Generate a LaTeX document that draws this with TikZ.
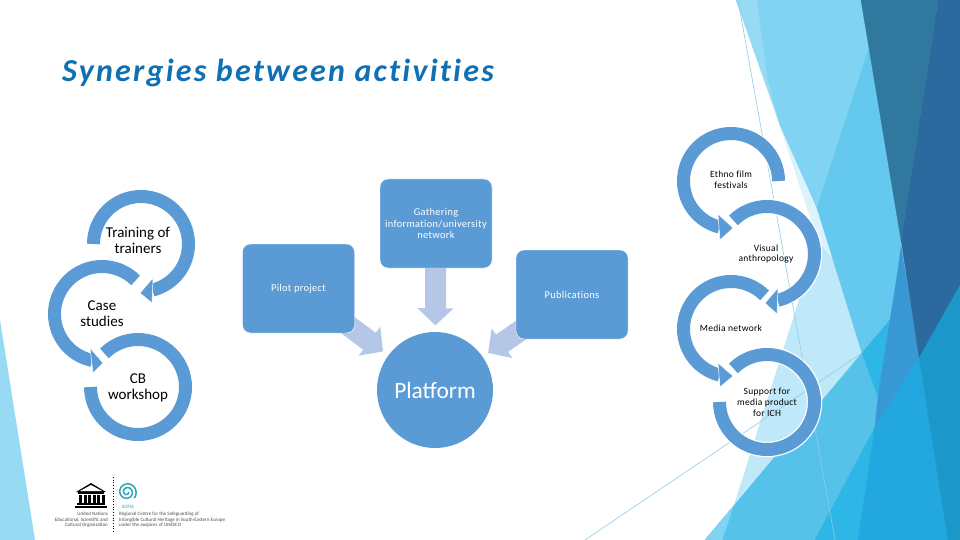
\documentclass[tikz,border=0pt]{standalone}
\usepackage{fontspec}
\setmainfont{Carlito}
\newfontfamily\titlefont[LetterSpace=7,RawFeature=-liga]{Carlito}
\newfontfamily\smallfont[LetterSpace=3,RawFeature=-liga]{Carlito}
\usetikzlibrary{arrows.meta,backgrounds}
\pgfdeclarelayer{links}
\pgfsetlayers{background,links,main}
\definecolor{boxblue}{HTML}{5B9BD5}
\definecolor{linkblue}{HTML}{B4C7E7}
\definecolor{titleblue}{HTML}{1070B4}
\definecolor{facetlight}{HTML}{80D3F2}
\definecolor{facetlighter}{HTML}{96DAF4}
\definecolor{facetmid}{HTML}{65C8EE}
\definecolor{facetpale}{HTML}{BFE8F8}
\definecolor{facetpaler}{HTML}{DDF3FB}
\definecolor{facetsky}{HTML}{56C2EA}
\definecolor{facetcyan}{HTML}{2DB6E6}
\definecolor{facetroyal}{HTML}{3898D3}
\definecolor{facetdeep}{HTML}{22A7DE}
\definecolor{facetsea}{HTML}{1B97C9}
\definecolor{facetnavy}{HTML}{31789F}
\definecolor{facetink}{HTML}{2A6A9E}
\definecolor{facetline}{HTML}{8CCDE8}
\definecolor{swirlteal}{HTML}{2FA6B8}
\tikzset{
  facet/.style={fill=#1,draw=#1,line width=.4pt},
  ringline/.style={draw=boxblue,line width=13pt,preaction={draw=white,line width=15.5pt}},
  ringhead/.style={fill=boxblue,draw=white,line width=.5pt},
  sidebox/.style={draw=white,fill=boxblue,rounded corners=8pt,minimum width=112pt,minimum height=89pt,inner sep=0pt,text=white,align=center,font=\smallfont\fontsize{10.4}{11.7}\selectfont},
  bigtext/.style={align=center,inner sep=0pt,font=\fontsize{15}{16}\selectfont},
  smalltext/.style={align=center,inner sep=0pt,font=\smallfont\fontsize{9.5}{10.8}\selectfont},
  logotext/.style={inner sep=0pt,text=black!70,font=\fontsize{5}{5.4}\selectfont},
  feedlink/.style={draw=linkblue,line width=21pt,shorten <=-10pt,shorten >=6.5pt,-{Triangle[width=35pt,length=17pt]}}
}
\begin{document}
\begin{tikzpicture}[x=1pt,y=-1pt]
    \useasboundingbox (0,0) rectangle (960,540);
    \begin{scope}[on background layer]
        \fill[white] (0,0) rectangle (960,540);
        \fill[facetlighter] (0,320) -- (35,540) -- (0,540) -- cycle;
        \draw[facet=facetpale] (780,125) -- (817,208) -- (862,353) -- (735,503) -- (818,240) -- cycle;
        \draw[facet=facetpaler] (780,125) -- (817,208) -- (832,258) -- (818,240) -- cycle;
        \draw[facet=facetlighter] (736,0) -- (757,0) -- (768,80) -- (780,125) -- cycle;
        \draw[facet=facetlight] (757,0) -- (861,0) -- (869,48) -- (817,208) -- (780,125) -- (768,80) -- cycle;
        \draw[facet=facetmid] (869,48) -- (817,208) -- (862,353) -- (890,320) -- (898,270) -- (901,240) -- cycle;
        \draw[facet=facetsky] (705,540) -- (862,353) -- (878,397) -- (875,427) -- (815,540) -- cycle;
        \draw[facet=facetlight] (705,540) -- (733,507) -- (722,540) -- cycle;
        \draw[facet=facetcyan] (862,353) -- (890,320) -- (878,397) -- cycle;
        \draw[facet=facetcyan] (875,427) -- (858,540) -- (815,540) -- cycle;
        \draw[facet=facetroyal] (901,245) -- (905,270) -- (919,357) -- (875,427) -- (878,397) -- (890,320) -- (898,270) -- cycle;
        \draw[facet=facetdeep] (919,357) -- (948,540) -- (858,540) -- (875,427) -- cycle;
        \draw[facet=facetsea] (919,357) -- (960,284) -- (960,540) -- (948,540) -- cycle;
        \draw[facet=facetink] (938,0) -- (960,0) -- (960,284) -- (919,357) -- (901,240) -- cycle;
        \draw[facet=facetnavy] (861,0) -- (938,0) -- (901,240) -- cycle;
        \draw[facetline,line width=.6pt] (738,0) -- (835,540);
        \draw[facetline,line width=.6pt] (862,353) -- (585,540);
    \end{scope}
    \node[anchor=base west,inner sep=0pt,text=titleblue,font=\titlefont\bfseries\itshape\fontsize{32}{32}\selectfont] (title) at (62,82) {Synergies between activities};

    \node[sidebox] (pilot) at (298.5,288.5) {Pilot project};
    \node[sidebox] (gather) at (436,223.5) {Gathering\\information/university\\network};
    \node[sidebox] (publ) at (572,294.5) {Publications};
    \node[circle,fill=boxblue,minimum size=116pt,inner sep=0pt,text=white,font=\fontsize{23.4}{26}\selectfont] (plat) at (435,390) {Platform};
    \begin{pgfonlayer}{links}
        \draw[feedlink] (pilot) -- (plat);
        \draw[feedlink] (gather) -- (plat);
        \draw[feedlink] (publ) -- (plat);
    \end{pgfonlayer}

    \draw[ringline] (141,244) ++(180:47.5) arc[start angle=180,end angle=436,radius=47.5];
    \draw[ringline] (102,314) ++(315:47.5) arc[start angle=315,end angle=102,radius=47.5];
    \draw[ringline] (138,387) ++(225:47.5) arc[start angle=225,end angle=540,radius=47.5];
    \fill[ringhead] (140,293) -- (153,278) -- (152,303) -- cycle;
    \fill[ringhead] (103,363) -- (90,348) -- (93,373) -- cycle;
    \node[bigtext] (train) at (138,240) {Training of\\trainers};
    \node[bigtext] (case) at (102,314) {Case\\studies};
    \node[bigtext] (cbwork) at (138,388) {CB\\workshop};

    \draw[ringline] (731,181) ++(0:47.5) arc[start angle=0,end angle=-256,radius=47.5];
    \draw[ringline] (767,254) ++(225:47.5) arc[start angle=225,end angle=437,radius=47.5];
    \draw[ringline] (731,329) ++(315:47.5) arc[start angle=315,end angle=104,radius=47.5];
    \draw[ringline] (767,402) ++(225:47.5) arc[start angle=225,end angle=540,radius=47.5];
    \fill[ringhead] (733,228) -- (718,214) -- (720,240) -- cycle;
    \fill[ringhead] (765,303) -- (778,288) -- (777,314) -- cycle;
    \fill[ringhead] (733,376) -- (718,363) -- (720,387) -- cycle;
    \node[smalltext] (ethno) at (731,179.5) {Ethno film\\festivals};
    \node[smalltext] (visual) at (766,254) {Visual\\anthropology};
    \node[smalltext] (media) at (731,328.5) {Media network};
    \node[smalltext] (support) at (767,402) {Support for\\media product\\for ICH};

    \fill[black] (76,492) -- (91,483) -- (106,492) -- cycle;
    \fill[white] (80,491) -- (91,485) -- (102,491) -- cycle;
    \fill[black] (78,492) rectangle (104,494);
    \foreach \colx in {79,83.5,88,92.5,97,101.5}
        \fill[black] (\colx,495) rectangle ++(3,8);
    \fill[black] (77,503) rectangle (105,505);
    \fill[black] (75,506) rectangle (107,508);
    \draw[black,line width=.7pt,dotted] (113,477) -- (113,532);
    \draw[swirlteal,line width=1.5pt] plot[domain=0:760,samples=60,smooth] ({127+(1.5+\x/95)*cos(\x)},{492+(1.5+\x/95)*sin(\x)});
    \node[logotext,text=swirlteal] (sofia) at (128,507) {SOFIA};
    \node[logotext,anchor=east,align=right] (unesco) at (108,520) {United Nations\\Educational, Scientific and\\Cultural Organization};
    \node[logotext,anchor=west,align=left] (centre) at (119,520) {Regional Centre for the Safeguarding of\\Intangible Cultural Heritage in South-Eastern Europe\\under the auspices of UNESCO};
\end{tikzpicture}
\end{document}
